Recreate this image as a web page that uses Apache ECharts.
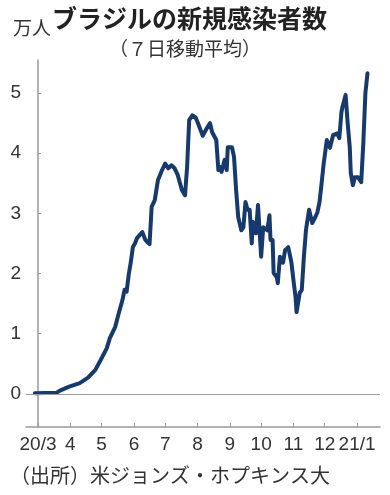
<!DOCTYPE html>
<html><head><meta charset="utf-8">
<script src="https://cdn.jsdelivr.net/npm/echarts@6/dist/echarts.min.js"></script>
<style>html,body{margin:0;padding:0;background:#fff}#c{width:390px;height:495px}</style>
</head><body><div id="c"></div>
<script>
const dates = ['2020-02-27','2020-03-19','2020-03-22','2020-03-31','2020-04-10','2020-04-18','2020-04-25','2020-04-30','2020-05-06','2020-05-09','2020-05-14','2020-05-17','2020-05-21','2020-05-23','2020-05-25','2020-05-27','2020-05-29','2020-05-31','2020-06-02','2020-06-04','2020-06-09','2020-06-12','2020-06-14','2020-06-16','2020-06-18','2020-06-21','2020-06-24','2020-06-28','2020-07-01','2020-07-04','2020-07-07','2020-07-10','2020-07-13','2020-07-17','2020-07-20','2020-07-22','2020-07-24','2020-07-27','2020-07-30','2020-08-01','2020-08-04','2020-08-06','2020-08-10','2020-08-13','2020-08-15','2020-08-19','2020-08-21','2020-08-23','2020-08-24','2020-08-27','2020-08-29','2020-08-30','2020-09-03','2020-09-05','2020-09-07','2020-09-09','2020-09-12','2020-09-14','2020-09-16','2020-09-18','2020-09-20','2020-09-22','2020-09-23','2020-09-26','2020-09-28','2020-10-01','2020-10-03','2020-10-07','2020-10-09','2020-10-10','2020-10-12','2020-10-13','2020-10-16','2020-10-17','2020-10-19','2020-10-22','2020-10-24','2020-10-27','2020-10-30','2020-11-01','2020-11-03','2020-11-04','2020-11-07','2020-11-09','2020-11-11','2020-11-13','2020-11-14','2020-11-16','2020-11-19','2020-11-22','2020-11-24','2020-11-26','2020-11-28','2020-11-30','2020-12-03','2020-12-06','2020-12-09','2020-12-13','2020-12-15','2020-12-17','2020-12-18','2020-12-21','2020-12-23','2020-12-25','2020-12-26','2020-12-28','2020-12-30','2021-01-02','2021-01-05','2021-01-07','2021-01-09','2021-01-11'];
const cases = [0.01,0.02,0.055,0.12,0.18,0.27,0.40,0.56,0.76,0.93,1.11,1.31,1.56,1.73,1.70,1.98,2.19,2.44,2.50,2.59,2.69,2.56,2.52,2.49,3.11,3.22,3.55,3.72,3.83,3.75,3.80,3.75,3.64,3.39,3.30,3.77,4.55,4.63,4.60,4.52,4.38,4.29,4.42,4.50,4.35,4.22,3.72,3.77,3.69,3.89,3.72,4.10,4.10,3.94,3.39,2.94,2.72,2.77,3.19,3.06,3.06,2.50,2.86,2.67,3.14,2.28,2.77,2.72,2.97,2.56,2.56,2.01,1.94,1.84,2.28,2.18,2.39,2.44,2.19,1.89,1.61,1.36,1.68,1.73,2.28,2.72,2.84,3.06,2.84,2.94,3.02,3.19,3.50,3.83,4.22,4.09,4.30,4.33,4.25,4.68,4.77,4.97,4.50,4.10,3.67,3.47,3.60,3.60,3.52,4.17,5.00,5.33];
const monthDates = ['2020-03-01','2020-04-01','2020-05-01','2020-06-01','2020-07-01','2020-08-01','2020-09-01','2020-10-01','2020-11-01','2020-12-01','2021-01-01'];
const monthLabels = ['20/3','4','5','6','7','8','9','10','11','12','21/1'];
const yTicks = [0,1,2,3,4,5];

const base = Date.parse('2020-03-01');
const dayIdx = d => Math.round((Date.parse(d) - base) / 86400000);
const seriesData = dates.map((d, i) => [dayIdx(d), cases[i]]);
const monthIdx = monthDates.map(dayIdx);
const labelMap = {};
monthIdx.forEach((v, i) => { labelMap[v] = monthLabels[i]; });

const numFont = '"Liberation Sans",Arial,sans-serif';
const jpFont = '"Noto Sans CJK JP",sans-serif';
const gray = '#9a9a9a';

const chart = echarts.init(document.getElementById('c'), null, {renderer: 'canvas'});
chart.setOption({
  animation: false,
  grid: {left: 26, right: 10, top: 60, bottom: 68, containLabel: false},
  xAxis: {
    type: 'value', min: -11.5, max: 328,
    axisLine: {show: true, onZero: false, lineStyle: {color: gray, width: 1.5}},
    axisTick: {show: true, inside: true, length: 4, customValues: monthIdx, lineStyle: {color: gray}},
    axisLabel: {customValues: monthIdx, formatter: v => labelMap[v] || '', color: '#333', fontFamily: numFont, fontSize: 19, margin: 8},
    splitLine: {show: false}
  },
  yAxis: {
    type: 'value', min: -0.55, max: 5.55,
    axisLine: {show: true, lineStyle: {color: gray, width: 1.5}},
    axisTick: {show: true, inside: true, length: 3, customValues: yTicks, lineStyle: {color: gray}},
    axisLabel: {customValues: yTicks, color: '#333', fontFamily: numFont, fontSize: 19, margin: 5},
    splitLine: {show: false}
  },
  graphic: [
    {type: 'text', left: 13, top: 18, style: {text: '万人', font: '400 19px ' + jpFont, fill: '#333'}},
    {type: 'text', left: 52, top: 6, style: {text: 'ブラジルの新規感染者数', font: '700 25px ' + jpFont, fill: '#222'}},
    {type: 'text', left: 109, top: 39, style: {text: '（７日移動平均）', font: '400 19px ' + jpFont, fill: '#333'}},
    {type: 'text', left: 10, top: 465, style: {text: '（出所）米ジョンズ・ホプキンス大', font: '400 20px ' + jpFont, fill: '#333'}}
  ],
  series: [{
    type: 'line', data: seriesData, showSymbol: false, silent: true,
    lineStyle: {color: '#173a6e', width: 4, join: 'round', cap: 'round'},
    markLine: {silent: true, symbol: 'none', label: {show: false},
      lineStyle: {color: gray, width: 1.2, type: 'solid'}, data: [{yAxis: 0}]},
    z: 3
  }]
});
</script></body></html>
